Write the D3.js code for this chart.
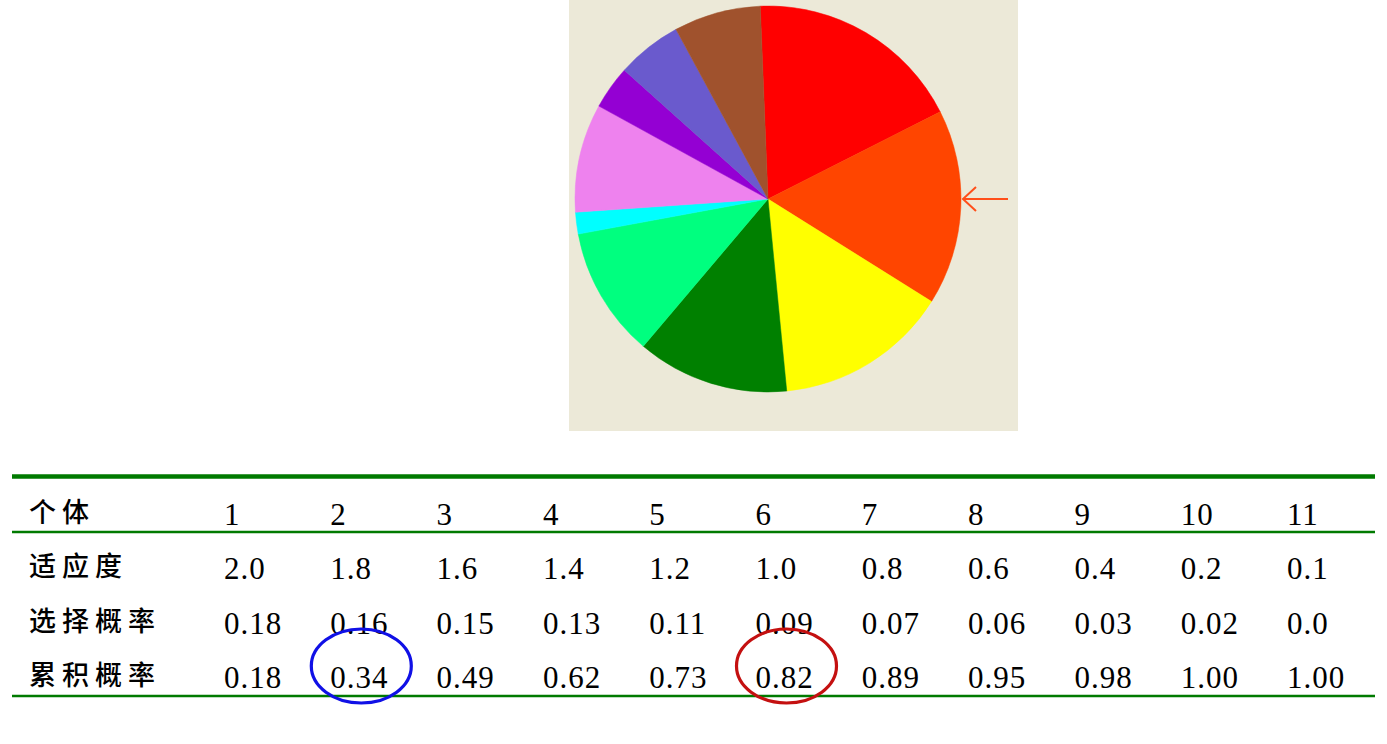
<!DOCTYPE html>
<html>
<head>
<meta charset="utf-8">
<script src="https://cdn.jsdelivr.net/npm/d3@7/dist/d3.min.js"></script>
<style>
  html, body { margin: 0; padding: 0; background: #ffffff; }
  svg { display: block; }
</style>
</head>
<body>
<svg id="chart" width="1387" height="744"></svg>
<script>
// ---- data ----
const rowLabels = ["个体", "适应度", "选择概率", "累积概率"];
const individuals = [1, 2, 3, 4, 5, 6, 7, 8, 9, 10, 11];
const fitness = [2.0, 1.8, 1.6, 1.4, 1.2, 1.0, 0.8, 0.6, 0.4, 0.2, 0.1];
const selectProb = ["0.18", "0.16", "0.15", "0.13", "0.11", "0.09", "0.07", "0.06", "0.03", "0.02", "0.0"];
const cumProb = ["0.18", "0.34", "0.49", "0.62", "0.73", "0.82", "0.89", "0.95", "0.98", "1.00", "1.00"];
// pie slices (clockwise from top), referencing individuals' fitness
const pieIndividuals = [1, 2, 3, 4, 5, 10, 6, 9, 8, 7];
const pieColors = ["#ff0000", "#ff4500", "#ffff00", "#008000", "#00ff7f", "#00ffff", "#ee82ee", "#9400d3", "#6a5acd", "#a0522d"];
// highlighted cells: [individual, row index]
const highlights = [{ ind: 2, row: 3, color: "#1010e6" }, { ind: 6, row: 3, color: "#c41010" }];

// ---- drawing ----
const svg = d3.select("#chart");

// pie panel
svg.append("rect").attr("x", 569).attr("y", 0).attr("width", 449).attr("height", 431).attr("fill", "#ece9d8");

const cx = 768, cy = 199, R = 193;
const pieData = pieIndividuals.map((ind, i) => ({ value: fitness[ind - 1], color: pieColors[i] }));
const pie = d3.pie().sort(null).value(d => d.value)
  .startAngle(-2.3 * Math.PI / 180).endAngle(2 * Math.PI - 2.3 * Math.PI / 180);
const arc = d3.arc().innerRadius(0).outerRadius(R);
const pg = svg.append("g").attr("transform", `translate(${cx},${cy})`);
pg.selectAll("path").data(pie(pieData)).join("path")
  .attr("d", arc).attr("fill", d => d.data.color)
  .attr("stroke", d => d.data.color).attr("stroke-width", 0.5);

// pointer arrow
const arrowColor = "#ff4f1a";
const ag = svg.append("g").attr("stroke", arrowColor).attr("stroke-width", 2).attr("fill", "none");
ag.append("line").attr("x1", cx + R + 2).attr("y1", cy).attr("x2", cx + R + 47).attr("y2", cy);
ag.append("path").attr("d", `M${cx + R + 15},${cy - 12} L${cx + R + 2},${cy} L${cx + R + 15},${cy + 12}`);

// table
const x = d3.scaleLinear().domain([1, 11]).range([224, 1287]);
const rowY = d3.scaleLinear().domain([0, 3]).range([525, 688]);
const green = "#007a00";

svg.append("line").attr("x1", 12).attr("x2", 1375).attr("y1", 476.5).attr("y2", 476.5)
  .attr("stroke", green).attr("stroke-width", 4.5);
svg.append("line").attr("x1", 12).attr("x2", 1375).attr("y1", 532).attr("y2", 532)
  .attr("stroke", green).attr("stroke-width", 2.5);
svg.append("line").attr("x1", 12).attr("x2", 1375).attr("y1", 696).attr("y2", 696)
  .attr("stroke", green).attr("stroke-width", 2.5);

const tg = svg.append("g");
tg.selectAll("text.lab").data(rowLabels).join("text")
  .attr("class", "lab")
  .attr("x", 29).attr("y", (d, i) => rowY(i) - 3)
  .attr("font-family", "'Noto Sans CJK SC', sans-serif")
  .attr("font-size", 27).attr("letter-spacing", 6).attr("font-weight", 500).attr("fill", "#000")
  .text(d => d);

const rows = [individuals.map(String), fitness.map(v => v.toFixed(1)), selectProb, cumProb];
rows.forEach((vals, r) => {
  tg.selectAll(`text.r${r}`).data(vals).join("text")
    .attr("class", `r${r}`)
    .attr("x", (d, i) => x(individuals[i]))
    .attr("y", rowY(r))
    .attr("font-family", "'Liberation Serif', serif")
    .attr("font-size", 31).attr("letter-spacing", 1).attr("fill", "#000")
    .text(d => d);
});

// highlight ellipses
svg.selectAll("ellipse").data(highlights).join("ellipse")
  .attr("cx", d => x(d.ind) + 31).attr("cy", d => rowY(d.row) - 22)
  .attr("rx", 50).attr("ry", 37)
  .attr("fill", "none").attr("stroke", d => d.color).attr("stroke-width", 3.2);
</script>
</body>
</html>
